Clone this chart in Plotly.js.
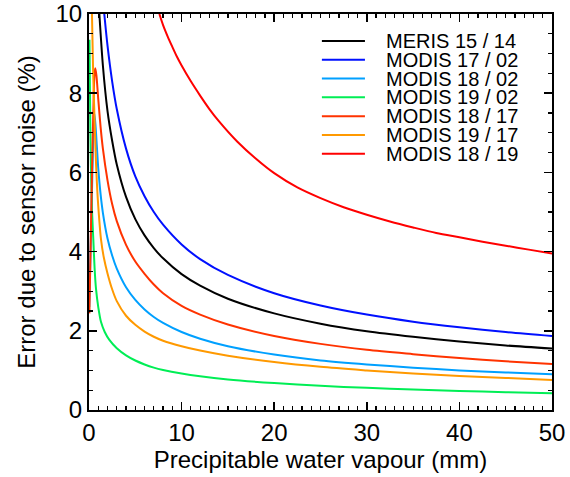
<!DOCTYPE html>
<html><head><meta charset="utf-8">
<script src="https://cdn.plot.ly/plotly-3.0.1.min.js"></script>
<style>html,body{margin:0;padding:0;background:#fff}#chart{width:570px;height:477px}</style>
</head><body><div id="chart"></div>
<script>
const seriesNames = ["MERIS 15 / 14","MODIS 17 / 02","MODIS 18 / 02","MODIS 19 / 02","MODIS 18 / 17","MODIS 19 / 17","MODIS 18 / 19"];
const seriesColors = ["#000000","#0010ff","#00a0ff","#00ee55","#ff3300","#ff9900","#ff0000"];

const xMeris = [1.12,1.5,2,2.5,3,4,5,6,7,8,10,12,15,20,25,30,35,40,45,50];
const yMeris = [10,8.7,7.55,6.8,6.2,5.38,4.82,4.41,4.09,3.83,3.43,3.14,2.81,2.44,2.18,1.99,1.85,1.73,1.63,1.55];

const xM1702 = [1.65,2,2.5,3,4,5,6,7,8,10,12,15,20,25,30,35,40,45,50];
const yM1702 = [10,9.2,8.3,7.6,6.6,5.9,5.4,5.0,4.68,4.18,3.81,3.41,2.95,2.64,2.41,2.23,2.09,1.97,1.87];

const xM1802 = [0.03,0.3,0.45,0.58,0.7,0.85,1.0,1.25,1.5,2,2.5,3,4,5,6,7,8,10,12,15,20,25,30,35,40,45,50];
const yM1802 = [2.6,5.3,6.8,7.49,7.2,6.65,6.1,5.45,4.98,4.33,3.9,3.57,3.1,2.78,2.54,2.35,2.2,1.97,1.8,1.61,1.4,1.25,1.15,1.07,1.0,0.95,0.9];

const xM1902 = [0.05,0.15,0.3,0.47,0.6,0.76,1.0,1.3,1.7,2.2,3,4,5,6,7,8,10,12,15,20,25,30,35,40,45,50];
const yM1902 = [9.35,7.0,5.2,4.29,3.6,3.05,2.6,2.22,1.97,1.77,1.56,1.38,1.25,1.15,1.07,1.01,0.92,0.85,0.77,0.68,0.61,0.56,0.52,0.48,0.45,0.42];

const xM1817 = [0.04,0.3,0.5,0.6,0.68,0.8,1.0,1.25,1.5,2,2.5,3,4,5,6,7,8,10,12,15,20,25,30,35,40,45,50];
const yM1817 = [2.44,5.7,7.9,8.5,8.63,8.45,7.85,7.15,6.6,5.8,5.2,4.77,4.17,3.75,3.44,3.17,2.95,2.63,2.41,2.16,1.87,1.67,1.52,1.41,1.31,1.23,1.16];

const xM1917 = [0.32,0.45,0.58,0.7,0.85,1.0,1.3,1.6,2,2.5,3,4,5,6,7,8,10,12,15,20,25,30,35,40,45,50];
const yM1917 = [10,8.5,7.5,6.6,5.75,5.15,4.3,3.85,3.45,3.05,2.75,2.38,2.15,1.98,1.85,1.75,1.61,1.5,1.37,1.21,1.09,1.0,0.92,0.86,0.81,0.76];

const xM1819 = [7.6,8,8.5,9,9.5,10,11,12,13,14,16,18,20,22.5,25,27.5,30,32.5,35,37.5,40,42.5,45,47.5,50];
const yM1819 = [10,9.72,9.43,9.17,8.92,8.7,8.3,7.94,7.6,7.3,6.78,6.35,5.98,5.62,5.35,5.12,4.93,4.76,4.61,4.47,4.36,4.25,4.15,4.05,3.95];

const xs = [xMeris,xM1702,xM1802,xM1902,xM1817,xM1917,xM1819];
const ys = [yMeris,yM1702,yM1802,yM1902,yM1817,yM1917,yM1819];

const FONT = "Liberation Sans, Arial, Helvetica, sans-serif";

const traces = xs.map((x,i)=>({
  x:x, y:ys[i], type:"scatter", mode:"lines", name:seriesNames[i],
  line:{color:seriesColors[i], width:2, shape:"spline", smoothing:0.8},
  showlegend:false, hoverinfo:"skip"
}));

const annotations = [], shapes = [];
const legX0 = 0.503, legX1 = 0.596, legTX = 0.640, legY0 = 0.932, legDY = 0.0475;
seriesNames.forEach((n,i)=>{
  const yy = legY0 - i*legDY;
  shapes.push({type:"line", xref:"paper", yref:"paper", x0:legX0, x1:legX1, y0:yy, y1:yy,
    line:{color:seriesColors[i], width:2}});
  annotations.push({xref:"paper", yref:"paper", x:legTX, y:yy, xanchor:"left", yanchor:"middle",
    text:n, showarrow:false, height:18, borderpad:0, font:{family:FONT, size:20, color:"#000"}});
});

const axisCommon = {
  showline:true, linecolor:"#000", linewidth:2, mirror:"allticks",
  ticks:"inside", ticklen:8, tickwidth:1.5, tickcolor:"#000",
  showgrid:false, zeroline:false,
  tickfont:{family:FONT, size:24, color:"#000"}
};

const layout = {
  width:570, height:477,
  margin:{l:89, r:18, t:14, b:67},
  paper_bgcolor:"#fff", plot_bgcolor:"#fff",
  font:{family:FONT, color:"#000"},
  xaxis:Object.assign({}, axisCommon, {
    range:[0,50], dtick:10, tick0:0,
    minor:{dtick:1, ticks:"inside", ticklen:4, tickwidth:1.2, tickcolor:"#000", showgrid:false},
    title:{text:"Precipitable water vapour (mm)", font:{family:FONT, size:24, color:"#000"}, standoff:0}
  }),
  yaxis:Object.assign({}, axisCommon, {
    range:[0,10], dtick:2, tick0:0,
    minor:{dtick:0.5, ticks:"inside", ticklen:4, tickwidth:1.2, tickcolor:"#000", showgrid:false},
    title:{text:"Error due to sensor noise (%)", font:{family:FONT, size:24, color:"#000"}, standoff:13}
  }),
  shapes:shapes, annotations:annotations, showlegend:false
};

Plotly.newPlot("chart", traces, layout, {displayModeBar:false, staticPlot:true});
</script>
</body></html>
